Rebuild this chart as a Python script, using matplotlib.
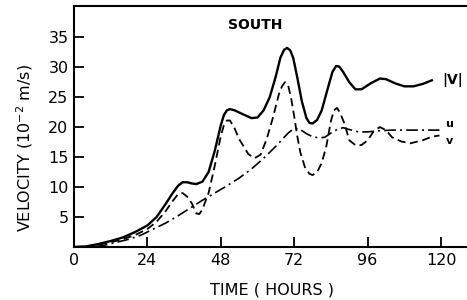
import matplotlib
matplotlib.use("Agg")
import matplotlib.pyplot as plt

# |V| (solid)
t_vmag = [0, 4, 8, 12, 16, 20, 24, 27, 30, 32, 34, 35.5, 37, 38.5, 40, 42, 44, 46, 48, 49,
          50, 51, 52.5, 55, 58, 60, 62, 64, 66, 67.5, 68.7, 69.7, 70.7, 71.7, 73, 74.5, 76,
          77, 78, 79.5, 81, 83, 84.5, 85.7, 86.7, 88, 90, 92, 94, 97, 100, 102, 105, 108,
          111, 114, 117]
vmag = [0.0, 0.1, 0.5, 1.0, 1.6, 2.5, 3.6, 5.0, 7.2, 8.8, 10.2, 10.8, 10.8, 10.6, 10.5,
        10.9, 12.5, 16.0, 20.3, 22.0, 22.8, 23.0, 22.8, 22.2, 21.5, 21.6, 22.8, 25.0, 28.5,
        31.6, 32.9, 33.2, 32.8, 31.5, 28.3, 24.3, 21.5, 20.7, 20.6, 21.2, 22.8, 26.5, 29.2,
        30.2, 30.1, 29.2, 27.5, 26.3, 26.3, 27.3, 28.1, 28.0, 27.3, 26.8, 26.8, 27.2, 27.8]

# v (dashed)
t_v = [0, 4, 8, 12, 16, 20, 24, 27, 30, 32, 34, 35.5, 37, 38.5, 40, 41, 42, 44, 46, 48,
       49, 50, 51, 52.5, 54, 57, 59, 61, 63, 65, 67, 68, 69, 70, 71, 72, 73, 74, 75.5, 77,
       78, 79.5, 81, 82.5, 84, 85, 86, 87, 88.5, 90, 92, 94, 96, 98, 100, 102, 104, 107,
       110, 114, 117, 119.5]
v = [0.0, 0.1, 0.4, 0.8, 1.3, 2.0, 3.0, 4.2, 6.0, 7.5, 8.8, 9.0, 8.4, 7.3, 5.6, 5.5, 6.3,
     9.0, 13.5, 18.5, 20.3, 21.1, 21.1, 19.8, 18.0, 15.5, 14.8, 15.4, 18.0, 21.5, 25.5,
     26.8, 27.5, 27.0, 24.8, 21.8, 18.5, 15.8, 13.3, 12.2, 12.0, 12.5, 14.0, 16.8, 21.0,
     22.8, 23.2, 22.4, 20.5, 17.8, 17.0, 17.0, 17.8, 19.3, 20.0, 19.5, 18.3, 17.6, 17.3,
     17.8, 18.4, 18.6]

# u (dash-dot)
t_u = [0, 6, 10, 14, 18, 22, 26, 30, 34, 38, 42, 46, 50, 54, 58, 62, 66, 70, 72, 74, 76,
       78, 80, 82, 84, 86, 88, 90, 93, 96, 100, 104, 110, 119.5]
u = [0.0, 0.0, 0.3, 0.8, 1.3, 2.0, 3.0, 4.0, 5.2, 6.5, 7.8, 9.0, 10.2, 11.5, 13.0, 14.8,
     16.8, 19.0, 19.8, 19.6, 18.9, 18.4, 18.2, 18.3, 19.0, 19.6, 19.9, 19.6, 19.2, 19.2,
     19.4, 19.5, 19.5, 19.5]

xticks = [0, 24, 48, 72, 96, 120]
yticks = [5, 10, 15, 20, 25, 30, 35]

fig = plt.figure(figsize=(4.67, 3.00), dpi=100)
ax = fig.add_axes([74/467, 53/300, 1 - 74/467, 241/300])

ax.plot(t_vmag, vmag, color='black', lw=1.7, solid_joinstyle='round')
ax.plot(t_v, v, color='black', lw=1.3, linestyle=(0, (4.5, 2.5)))
ax.plot(t_u, u, color='black', lw=1.2, linestyle=(0, (7, 2.5, 1.2, 2.5)))

ax.set_xlim(0, 128.5)
ax.set_ylim(0, 40.2)
ax.set_xticks(xticks)
ax.set_yticks(yticks)
ax.tick_params(direction='in', length=7, width=1.3, labelsize=11.5, pad=4)
ax.spines['right'].set_visible(False)
for s in ['left', 'bottom', 'top']:
    ax.spines[s].set_linewidth(1.5)

ax.text(59.4, 37, 'SOUTH', ha='center', va='center', fontsize=10, fontweight='bold')
ax.text(120.5, 27.9, '|V|', ha='left', va='center', fontsize=10, fontweight='bold')
ax.text(121.5, 20.5, 'u', ha='left', va='center', fontsize=8, fontweight='bold')
ax.text(121.5, 17.6, 'v', ha='left', va='center', fontsize=8, fontweight='bold')

ax.set_xlabel('TIME ( HOURS )', fontsize=11.5)
ax.xaxis.set_label_coords((272 - 74) / (467 - 74), -(290 - 247) / 241)
ax.set_ylabel('VELOCITY (10$^{-2}$ m/s)', fontsize=11.5)
ax.yaxis.set_label_coords(-(74 - 25) / (467 - 74), (247 - 148) / 241)
ax.yaxis.label.set_va('center')
ax.xaxis.label.set_va('center')

fig.savefig('out.png', dpi=100)
